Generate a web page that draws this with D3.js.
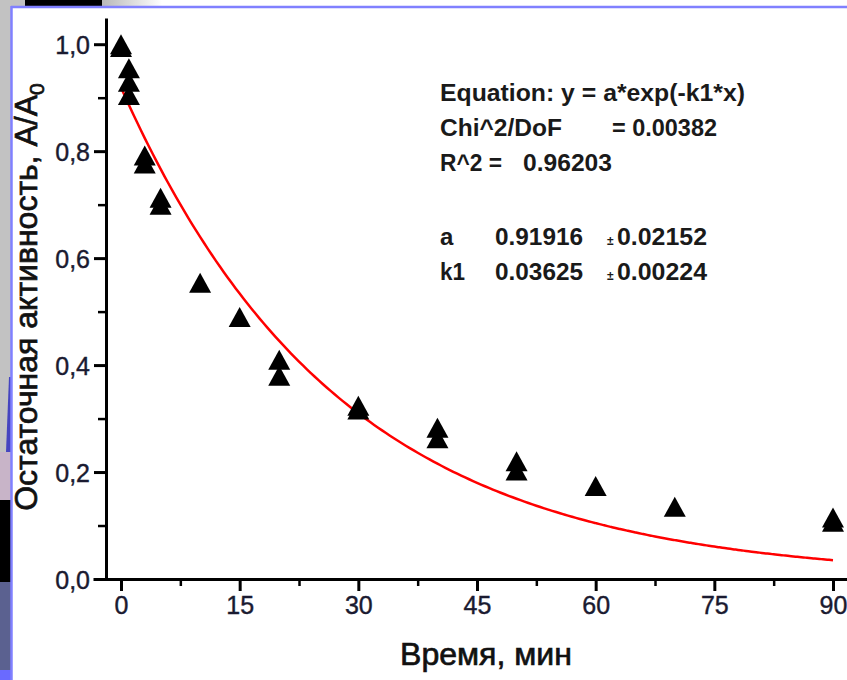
<!DOCTYPE html>
<html><head><meta charset="utf-8">
<script src="https://cdn.jsdelivr.net/npm/d3@7"></script>
<style>body{margin:0;background:#fff;} svg{display:block;}</style>
</head><body><svg id="c" width="847" height="680"></svg>
<script>
// ---- data ----
const timeMin  = [0, 0, 1, 1, 1, 3, 3, 5, 5, 10, 15, 20, 20, 30, 30, 40, 40, 50, 50, 60, 70, 90, 90];
const activity = [1.0, 0.995, 0.955, 0.93, 0.905, 0.792, 0.777, 0.713, 0.700, 0.554, 0.49, 0.41, 0.38, 0.324, 0.317, 0.283, 0.263, 0.22, 0.203, 0.174, 0.135, 0.115, 0.107];
const xTicks = [0, 15, 30, 45, 60, 75, 90];
const xMinorTicks = [7.5, 22.5, 37.5, 52.5, 67.5, 82.5];
const yTicks = [0, 0.2, 0.4, 0.6, 0.8, 1.0];
const yMinorTicks = [0.1, 0.3, 0.5, 0.7, 0.9];
// fit parameters as printed on the chart
const fitA = 0.91916, fitK1 = 0.03625;
const fitRange = [0, 90];
const xTitle = "Время, мин";
const yTitle = "Остаточная активность, A/A";

const svg = d3.select("#c");
const W = 847, H = 680;

// ---- surrounding frame (slide background) ----
svg.append("rect").attr("x",0).attr("y",0).attr("width",W).attr("height",H).attr("fill","#fff");
const grad = svg.append("defs").append("linearGradient").attr("id","tg").attr("x1","0").attr("x2","1");
grad.append("stop").attr("offset","0").attr("stop-color","#b8b8b8");
grad.append("stop").attr("offset","1").attr("stop-color","#ffffff");
svg.append("rect").attr("x",0).attr("y",0).attr("width",11).attr("height",H).attr("fill","#c2c2c2");
svg.append("rect").attr("x",0).attr("y",0).attr("width",25).attr("height",6).attr("fill","#c2c2c2");
svg.append("rect").attr("x",25).attr("y",0).attr("width",77).attr("height",6).attr("fill","#000");
svg.append("rect").attr("x",102).attr("y",0).attr("width",60).attr("height",6).attr("fill","url(#tg)");
svg.append("path").attr("d","M9,377 L11,377 L11,452 L6,452 Z").attr("fill","#4545c0");
svg.append("rect").attr("x",0).attr("y",452).attr("width",11).attr("height",48).attr("fill","#c8b4c8");
svg.append("rect").attr("x",0).attr("y",500).attr("width",11).attr("height",82).attr("fill","#000");
svg.append("rect").attr("x",0).attr("y",582).attr("width",11).attr("height",88).attr("fill","#5b6190");
svg.append("rect").attr("x",0).attr("y",670).attr("width",11).attr("height",10).attr("fill","#6a6aff");
svg.append("line").attr("x1",11).attr("x2",W).attr("y1",7).attr("y2",7).attr("stroke","#8080ff").attr("stroke-width",2.5);
svg.append("line").attr("x1",11.5).attr("x2",11.5).attr("y1",6).attr("y2",H).attr("stroke","#8080ff").attr("stroke-width",2.5);

// ---- scales ----
const x = d3.scaleLinear().domain([-3.54, 91.77]).range([93, 847]);
const y = d3.scaleLinear().domain([0, 1.049]).range([579, 18]);
const fmt = d => d3.format(".1f")(d).replace(".", ",");

// ---- axes ----
const yAxis = svg.append("g").attr("transform","translate(106,0)")
  .call(d3.axisLeft(y).tickValues(yTicks).tickSize(12).tickSizeOuter(0).tickFormat(fmt));
const yMinor = svg.append("g").attr("transform","translate(106,0)")
  .call(d3.axisLeft(y).tickValues(yMinorTicks).tickSize(8).tickSizeOuter(0).tickFormat(""));
yMinor.select(".domain").remove();

const xAxis = svg.append("g").attr("transform","translate(0,579)")
  .call(d3.axisBottom(x).tickValues(xTicks).tickSize(12).tickSizeOuter(0).tickFormat(d3.format("d")));
const xMinor = svg.append("g").attr("transform","translate(0,579)")
  .call(d3.axisBottom(x).tickValues(xMinorTicks).tickSize(7).tickSizeOuter(0).tickFormat(""));
xMinor.select(".domain").remove();

svg.selectAll(".domain").attr("stroke","#000").attr("stroke-width",3);
yAxis.selectAll(".tick line").attr("stroke","#000").attr("stroke-width",3);
xAxis.selectAll(".tick line").attr("stroke","#000").attr("stroke-width",3);
yMinor.selectAll(".tick line").attr("stroke","#000").attr("stroke-width",2.5);
xMinor.selectAll(".tick line").attr("stroke","#000").attr("stroke-width",2.5);

yAxis.selectAll(".tick text")
  .attr("x",-16).attr("dy","0.36em")
  .attr("font-family","Liberation Sans, Arial, sans-serif").attr("font-size",25)
  .attr("fill","#1a1a30").attr("stroke","#1a1a30").attr("stroke-width",0.4);
xAxis.selectAll(".tick text")
  .attr("y",17).attr("dy","0.71em")
  .attr("font-family","Liberation Sans, Arial, sans-serif").attr("font-size",25)
  .attr("fill","#1a1a30").attr("stroke","#1a1a30").attr("stroke-width",0.4);

// ---- axis titles ----
svg.append("text").attr("x",486).attr("y",665).attr("text-anchor","middle")
  .attr("font-family","Liberation Sans, Arial, sans-serif").attr("font-size",32)
  .attr("textLength",172).attr("lengthAdjust","spacingAndGlyphs")
  .attr("fill","#111").attr("stroke","#111").attr("stroke-width",0.7).text(xTitle);

const yt = svg.append("text").attr("transform","translate(37,297) rotate(-90)")
  .attr("text-anchor","middle")
  .attr("font-family","Liberation Sans, Arial, sans-serif").attr("font-size",32)
  .attr("fill","#111").attr("stroke","#111").attr("stroke-width",0.7);
yt.append("tspan").text(yTitle);
yt.append("tspan").attr("dy",7).attr("font-size",21).text("0");

// ---- fit curve ----
const fitPts = d3.range(fitRange[0], fitRange[1] + 0.25, 0.5).map(t => [t, fitA * Math.exp(-fitK1 * t)]);
svg.append("path").datum(fitPts)
  .attr("d", d3.line().x(d => x(d[0])).y(d => y(d[1])).curve(d3.curveMonotoneX))
  .attr("fill","none").attr("stroke","#ff0000").attr("stroke-width",2.5);

// ---- data points (up triangles) ----
const triUp = { draw(ctx, size) { const w = Math.sqrt(size * 2 * 22 / 20) / 2, h = w * 20 / 22;
  ctx.moveTo(0, -h); ctx.lineTo(w, h); ctx.lineTo(-w, h); ctx.closePath(); } };
svg.append("g").selectAll("path").data(timeMin.map((t, i) => [t, activity[i]])).join("path")
  .attr("transform", d => `translate(${x(d[0])},${y(d[1])})`)
  .attr("d", d3.symbol().type(triUp).size(220))
  .attr("fill","#000");

// ---- fit report ----
const lg = svg.append("g").attr("font-family","Liberation Sans, Arial, sans-serif")
  .attr("font-size",24).attr("font-weight","bold").attr("fill","#1a1a1a");
function seg(txt, x0, yb, len, size) {
  const t = lg.append("text").attr("x",x0).attr("y",yb).text(txt);
  if (len) t.attr("textLength",len).attr("lengthAdjust","spacingAndGlyphs");
  if (size) t.attr("font-size",size);
  return t;
}
seg("Equation: y = a*exp(-k1*x)", 440, 101, 305);
seg("Chi^2/DoF", 440, 136, 122);
seg("= 0.00382", 612, 136, 105);
seg("R^2 =", 440, 171, 62);
seg("0.96203", 523, 171, 89);
seg("a", 440, 245);
seg("0.91916", 495, 245, 88);
seg("±", 607, 245, null, 12);
seg("0.02152", 617, 245, 90);
seg("k1", 440, 280, 25);
seg("0.03625", 495, 280, 88);
seg("±", 607, 280, null, 12);
seg("0.00224", 617, 280, 90);
</script></body></html>
